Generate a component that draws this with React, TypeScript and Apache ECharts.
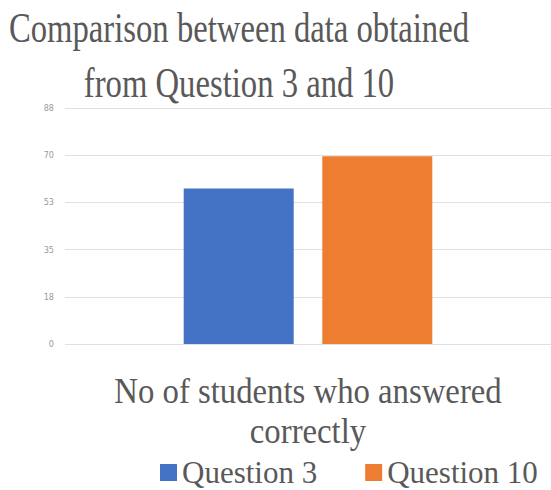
import React, { useEffect, useRef } from "react";
import * as echarts from "echarts";

const titleLines = ["Comparison between data obtained", "from Question 3 and 10"];
const categories = ["No of students who answered correctly"];
const seriesNames = ["Question 3", "Question 10"];
const question3Values = [58];
const question10Values = [70];
const yTickLabels = ["0", "18", "35", "53", "70", "88"];
const yMax = 88;
const colors = ["#4472C4", "#ED7D31"];

export default function App() {
  const ref = useRef<HTMLDivElement>(null);
  useEffect(() => {
    if (!ref.current) return;
    const chart = echarts.init(ref.current, null, { renderer: "svg" });
    const words = categories[0].split(" ");
    const nameLines = [words.slice(0, -1).join(" "), words[words.length - 1]];
    const interval = yMax / (yTickLabels.length - 1);
    const serif = "'Liberation Serif', 'Times New Roman', serif";
    chart.setOption({
      animation: false,
      backgroundColor: "#ffffff",
      grid: { left: 65, right: 0, top: 108, bottom: 146, containLabel: false },
      xAxis: {
        type: "category",
        data: categories,
        axisLine: { show: false },
        axisTick: { show: false },
        axisLabel: { show: false },
      },
      yAxis: {
        type: "value",
        min: 0,
        max: yMax,
        interval: interval,
        axisLine: { show: false },
        axisTick: { show: false },
        splitLine: { lineStyle: { color: "#e0e0e0", width: 1 } },
        axisLabel: {
          margin: 11,
          fontSize: 9,
          color: "#9a9a9a",
          fontFamily: "'DejaVu Sans Condensed', 'Liberation Sans Narrow', sans-serif",
          formatter: (_v: number, i: number) => yTickLabels[i] ?? "",
        },
      },
      legend: {
        data: seriesNames,
        left: 160,
        top: 457,
        padding: 0,
        itemWidth: 17,
        itemHeight: 17,
        itemGap: 48,
        icon: "rect",
        textStyle: { fontSize: 31, fontFamily: serif, color: "#595959" },
      },
      series: [
        {
          name: seriesNames[0],
          type: "bar",
          data: question3Values,
          barWidth: 110,
          barGap: "26%",
          itemStyle: { color: colors[0] },
        },
        {
          name: seriesNames[1],
          type: "bar",
          data: question10Values,
          barWidth: 110,
          itemStyle: { color: colors[1] },
        },
      ],
      graphic: [
        ...titleLines.map((t, i) => ({
          type: "text",
          x: 239,
          y: 27.5 + i * 54.5,
          scaleX: 0.76,
          style: {
            text: t,
            fontSize: 43,
            fontFamily: serif,
            fill: "#595959",
            align: "center",
            verticalAlign: "middle",
          },
        })),
        ...nameLines.map((t, i) => ({
          type: "text",
          x: 308,
          y: 390.7 + i * 40,
          scaleX: 0.9,
          style: {
            text: t,
            fontSize: 36.4,
            fontFamily: serif,
            fill: "#595959",
            align: "center",
            verticalAlign: "middle",
          },
        })),
      ],
    });
    return () => chart.dispose();
  }, []);
  return (
    <div
      ref={ref}
      style={{ position: "absolute", left: 0, top: 0, width: 551, height: 490, overflow: "hidden" }}
    />
  );
}
